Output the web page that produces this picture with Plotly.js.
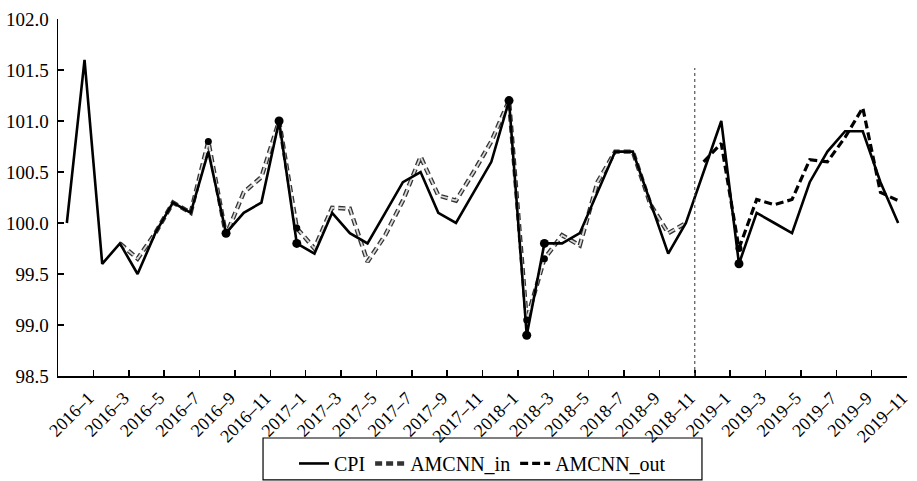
<!DOCTYPE html>
<html><head><meta charset="utf-8">
<script src="https://cdn.plot.ly/plotly-3.0.1.min.js"></script>
<style>html,body{margin:0;padding:0;background:#fff}#chart{width:917px;height:481px}</style>
</head><body><div id="chart"></div>
<script>
const months = [
 "2016–1","2016–2","2016–3","2016–4","2016–5","2016–6","2016–7","2016–8","2016–9","2016–10","2016–11","2016–12",
 "2017–1","2017–2","2017–3","2017–4","2017–5","2017–6","2017–7","2017–8","2017–9","2017–10","2017–11","2017–12",
 "2018–1","2018–2","2018–3","2018–4","2018–5","2018–6","2018–7","2018–8","2018–9","2018–10","2018–11","2018–12",
 "2019–1","2019–2","2019–3","2019–4","2019–5","2019–6","2019–7","2019–8","2019–9","2019–10","2019–11","2019–12"];
const tickLabels = ["2016–1","2016–3","2016–5","2016–7","2016–9","2016–11",
 "2017–1","2017–3","2017–5","2017–7","2017–9","2017–11",
 "2018–1","2018–3","2018–5","2018–7","2018–9","2018–11",
 "2019–1","2019–3","2019–5","2019–7","2019–9","2019–11"];
const cpi = [
 100.0,101.6,99.6,99.8,99.5,99.9,100.2,100.1,100.7,99.9,100.1,100.2,
 101.0,99.8,99.7,100.1,99.9,99.8,100.1,100.4,100.5,100.1,100.0,100.3,
 100.6,101.2,98.9,99.8,99.8,99.9,100.3,100.7,100.7,100.2,99.7,100.0,
 100.5,101.0,99.6,100.1,100.0,99.9,100.4,100.7,100.9,100.9,100.4,100.0];
const amcnnIn = [
 null,null,null,99.8,99.65,99.9,100.2,100.1,100.8,99.88,100.3,100.45,
 101.0,99.95,99.75,100.15,100.14,99.62,99.88,100.22,100.65,100.27,100.22,100.5,
 100.8,101.2,99.05,99.65,99.88,99.78,100.4,100.7,100.7,100.18,99.9,100.0,
 null,null,null,null,null,null,null,null,null,null,null,null];
const amcnnOut = [
 null,null,null,null,null,null,null,null,null,null,null,null,
 null,null,null,null,null,null,null,null,null,null,null,null,
 null,null,null,null,null,null,null,null,null,null,null,null,
 100.6,100.78,99.75,100.23,100.18,100.23,100.62,100.6,100.84,101.13,100.3,100.22];
const cpiDots = [9,12,13,25,26,27,38];
const inDots = [8,13,26,27];
const outDots = [38];
const splitAfter = "2018–12";
const splitTop = 101.52;

const xi = months.map((m,i)=>i);
const tickPos = tickLabels.map(l=>months.indexOf(l)+1.5);
const splitX = months.indexOf(splitAfter)+0.5;
const FONT = "Liberation Serif, Times New Roman, serif";

const traces = [
 {x:xi,y:amcnnIn,name:"AMCNN_in",mode:"lines",legendrank:2,
  line:{color:"#333",width:4.4,dash:"7px,4px"}},
 {x:xi,y:amcnnIn,name:"AMCNN_in",mode:"lines",showlegend:false,hoverinfo:"skip",
  line:{color:"#d8d8d8",width:1.8,dash:"7px,4px"}},
 {x:xi,y:amcnnOut,name:"AMCNN_out",mode:"lines",legendrank:3,
  line:{color:"#000",width:3.2,dash:"8px,4px"}},
 {x:xi,y:cpi,name:"CPI",mode:"lines",legendrank:1,
  line:{color:"#000",width:2.6}},
 {x:cpiDots,y:cpiDots.map(i=>cpi[i]),mode:"markers",showlegend:false,
  marker:{color:"#000",size:9}},
 {x:inDots,y:inDots.map(i=>amcnnIn[i]),mode:"markers",showlegend:false,
  marker:{color:"#000",size:7}},
 {x:outDots,y:outDots.map(i=>amcnnOut[i]),mode:"markers",showlegend:false,
  marker:{color:"#000",size:7}}
];

const layout = {
 width:917,height:481,
 margin:{l:58,r:10,t:19,b:105,autoexpand:false},
 paper_bgcolor:"#fff",plot_bgcolor:"#fff",
 font:{family:FONT,color:"#000",size:18},
 showlegend:true,
 xaxis:{range:[-0.5,47.5],tickmode:"array",tickvals:tickPos,ticktext:tickLabels,automargin:false,
  tickangle:-45,ticks:"inside",ticklen:6,tickwidth:1.5,tickcolor:"#000",
  showline:true,linecolor:"#000",linewidth:1.5,showgrid:false,zeroline:false,
  tickfont:{family:FONT,size:18,color:"#000"},ticklabelshift:-5,ticklabelstandoff:3},
 yaxis:{range:[98.5,102.0],tickmode:"linear",tick0:98.5,dtick:0.5,tickformat:".1f",automargin:false,
  ticks:"inside",ticklen:6,tickwidth:1.5,tickcolor:"#000",
  showline:true,linecolor:"#000",linewidth:1.5,showgrid:false,zeroline:false,
  tickfont:{family:FONT,size:19,color:"#000"},ticklabelstandoff:4},
 legend:{orientation:"h",x:0.5,xanchor:"center",yref:"container",y:0.077,yanchor:"top",
  borderwidth:0,font:{family:FONT,size:20,color:"#000"},bgcolor:"rgba(0,0,0,0)"},
 shapes:[
  {type:"line",xref:"x",yref:"y",x0:splitX,x1:splitX,y0:98.5,y1:splitTop,
   line:{color:"#555",width:1.2,dash:"dot"}},
  {type:"rect",xref:"paper",yref:"paper",x0:0.2415,x1:0.7585,y0:-0.291,y1:-0.1737,
   line:{color:"#000",width:1.2},fillcolor:"rgba(0,0,0,0)"}
 ]
};
Plotly.newPlot("chart",traces,layout,{displayModeBar:false,staticPlot:true});
</script></body></html>
